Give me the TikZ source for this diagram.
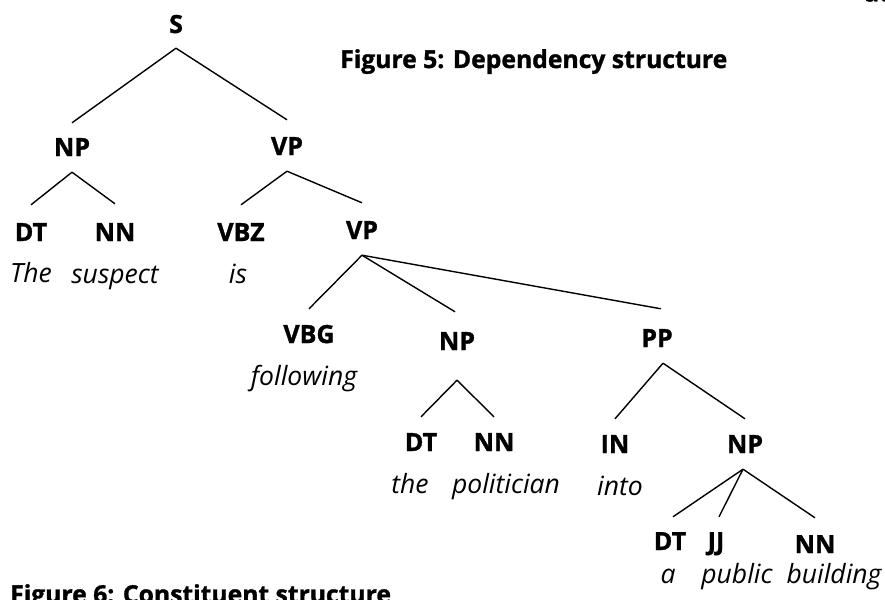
\documentclass[tikz,border=0pt]{standalone}
\usepackage{fontspec}
\setmainfont{Open Sans}[BoldFeatures={FakeBold=1.3}]
\begin{document}
\begin{tikzpicture}[x=1pt,y=-1pt,
  cat/.style={font=\bfseries\fontsize{25}{25}\selectfont, anchor=base,
              inner sep=0pt, text height=18pt, text depth=0pt},
  word/.style={font=\itshape\fontsize{26.5}{26.5}\selectfont, anchor=base, inner sep=0pt},
  caption/.style={font=\bfseries\fontsize{24.7}{24.7}\selectfont, anchor=base west, inner sep=0pt},
  branch/.style={line width=1.4pt}]
\useasboundingbox (0,0) rectangle (885,599);

% captions
\node[caption] (cap5) at (340,68) {Figure 5: Dependency structure};
\node[caption] (cap6) at (10,603) {Figure 6: Constituent structure};
\node[caption] (top) at (864,1.5) {ac};

% category labels
\node[cat] (S)   at (176,33)  {S};
\node[cat] (NPa) at (72,156)  {NP};
\node[cat] (VPa) at (287,155) {VP};
\node[cat] (DTa) at (31,241)  {DT};
\node[cat] (NNa) at (115,241) {NN};
\node[cat] (VBZ) at (241,241) {VBZ};
\node[cat] (VPb) at (362,239) {VP};
\node[cat] (VBG) at (309,343) {VBG};
\node[cat] (NPb) at (457,350) {NP};
\node[cat] (PP)  at (657,347) {PP};
\node[cat] (DTb) at (421,451) {DT};
\node[cat] (NNb) at (494,451) {NN};
\node[cat] (IN)  at (615,453) {IN};
\node[cat] (NPc) at (745,453) {NP};
\node[cat] (DTc) at (670,550) {DT};
\node[cat] (JJ)  at (716,550) {JJ};
\node[cat] (NNc) at (815,553) {NN};

% words
\node[word] (w1)  at (31,282)  {The};
\node[word] (w2)  at (115,283) {suspect};
\node[word] (w3)  at (238,283) {is};
\node[word] (w4)  at (304,385) {following};
\node[word] (w5)  at (410,493) {the};
\node[word] (w6)  at (506,493) {politician};
\node[word] (w7)  at (620,495) {into};
\node[word] (w8)  at (668,583) {a};
\node[word] (w9)  at (737,583) {public};
\node[word] (w10) at (834,583) {building};

% branches
\draw[branch] ([yshift=-15pt]S.south) -- ([yshift=15pt]NPa.north);
\draw[branch] ([yshift=-15pt]S.south) -- ([yshift=17pt]VPa.north);
\draw[branch] ([yshift=-16pt]NPa.south) -- ([yshift=18pt]DTa.north);
\draw[branch] ([yshift=-16pt]NPa.south) -- ([yshift=19pt]NNa.north);
\draw[branch] ([yshift=-16pt]VPa.south) -- ([yshift=18pt]VBZ.north);
\draw[branch] ([yshift=-16pt]VPa.south) -- ([yshift=18pt]VPb.north);
\draw[branch] ([yshift=-16pt]VPb.south) -- ([yshift=16pt]VBG.north);
\draw[branch] ([yshift=-16pt]VPb.south) -- ([xshift=-2pt,yshift=20pt]NPb.north);
\draw[branch] ([yshift=-16pt]VPb.south) -- ([xshift=4pt,yshift=20pt]PP.north);
\draw[branch] ([yshift=-30pt]NPb.south) -- ([yshift=16pt]DTb.north);
\draw[branch] ([yshift=-30pt]NPb.south) -- ([yshift=16pt]NNb.north);
\draw[branch] ([xshift=6pt,yshift=-16pt]PP.south) -- ([yshift=16pt]IN.north);
\draw[branch] ([xshift=6pt,yshift=-16pt]PP.south) -- ([yshift=16pt]NPc.north);
\draw[branch] ([xshift=-2pt,yshift=-16pt]NPc.south) -- ([xshift=3pt,yshift=15pt]DTc.north);
\draw[branch] ([xshift=-2pt,yshift=-16pt]NPc.south) -- ([xshift=3pt,yshift=15pt]JJ.north);
\draw[branch] ([xshift=-2pt,yshift=-16pt]NPc.south) -- ([yshift=17pt]NNc.north);
\end{tikzpicture}
\end{document}
